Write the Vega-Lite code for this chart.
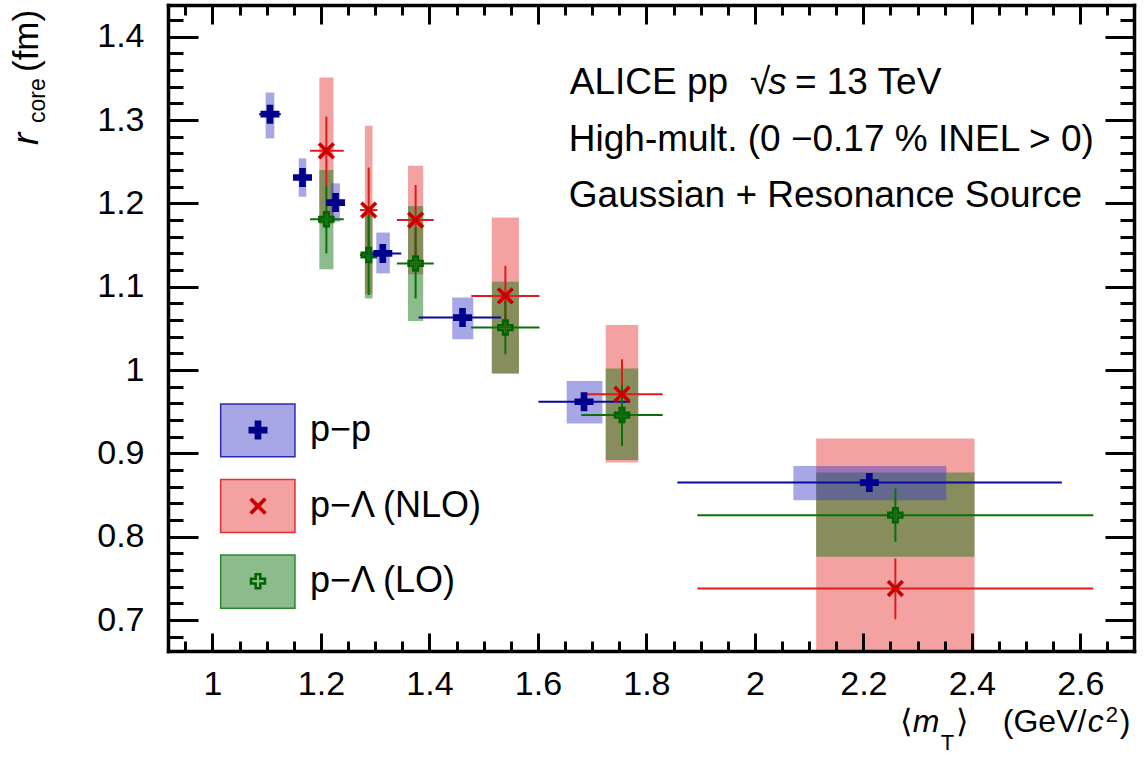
{
  "$schema": "https://vega.github.io/schema/vega-lite/v6.json",
  "width": 966,
  "height": 646,
  "autosize": {"type": "none"},
  "padding": {"left": 168, "top": 5, "right": 14, "bottom": 114},
  "background": "white",
  "config": {"view": {"stroke": null}, "text": {"font": "Liberation Sans"}},
  "resolve": {"axis": {"x": "independent", "y": "independent"}},
  "data": {"values": [
    {"series":"NLO","x":1.210,"y":1.263,"xlo":1.180,"xhi":1.242,"ylo":1.222,"yhi":1.304,"bxlo":1.197,"bxhi":1.223,"bylo":1.175,"byhi":1.351},
    {"series":"NLO","x":1.288,"y":1.192,"xlo":1.272,"xhi":1.304,"ylo":1.141,"yhi":1.243,"bxlo":1.281,"bxhi":1.295,"bylo":1.091,"byhi":1.293},
    {"series":"NLO","x":1.3745,"y":1.180,"xlo":1.340,"xhi":1.408,"ylo":1.138,"yhi":1.222,"bxlo":1.3605,"bxhi":1.3885,"bylo":1.115,"byhi":1.245},
    {"series":"NLO","x":1.540,"y":1.089,"xlo":1.477,"xhi":1.603,"ylo":1.054,"yhi":1.125,"bxlo":1.515,"bxhi":1.565,"bylo":0.996,"byhi":1.183},
    {"series":"NLO","x":1.755,"y":0.971,"xlo":1.680,"xhi":1.830,"ylo":0.929,"yhi":1.013,"bxlo":1.725,"bxhi":1.785,"bylo":0.889,"byhi":1.054},
    {"series":"NLO","x":2.259,"y":0.738,"xlo":1.894,"xhi":2.624,"ylo":0.701,"yhi":0.774,"bxlo":2.113,"bxhi":2.405,"bylo":0.558,"byhi":0.918},
    {"series":"LO","x":1.210,"y":1.181,"xlo":1.180,"xhi":1.242,"ylo":1.140,"yhi":1.222,"bxlo":1.197,"bxhi":1.223,"bylo":1.121,"byhi":1.240},
    {"series":"LO","x":1.288,"y":1.138,"xlo":1.272,"xhi":1.304,"ylo":1.090,"yhi":1.186,"bxlo":1.281,"bxhi":1.295,"bylo":1.086,"byhi":1.190},
    {"series":"LO","x":1.3745,"y":1.128,"xlo":1.340,"xhi":1.408,"ylo":1.086,"yhi":1.170,"bxlo":1.3605,"bxhi":1.3885,"bylo":1.059,"byhi":1.197},
    {"series":"LO","x":1.540,"y":1.051,"xlo":1.477,"xhi":1.603,"ylo":1.019,"yhi":1.083,"bxlo":1.515,"bxhi":1.565,"bylo":0.996,"byhi":1.106},
    {"series":"LO","x":1.755,"y":0.946,"xlo":1.680,"xhi":1.830,"ylo":0.909,"yhi":0.982,"bxlo":1.725,"bxhi":1.785,"bylo":0.892,"byhi":1.002},
    {"series":"LO","x":2.259,"y":0.826,"xlo":1.894,"xhi":2.624,"ylo":0.794,"yhi":0.858,"bxlo":2.113,"bxhi":2.405,"bylo":0.776,"byhi":0.877},
    {"series":"pp","x":1.106,"y":1.307,"xlo":1.086,"xhi":1.126,"ylo":1.302,"yhi":1.312,"bxlo":1.098,"bxhi":1.114,"bylo":1.278,"byhi":1.333},
    {"series":"pp","x":1.166,"y":1.231,"xlo":1.152,"xhi":1.180,"ylo":1.226,"yhi":1.236,"bxlo":1.159,"bxhi":1.173,"bylo":1.208,"byhi":1.254},
    {"series":"pp","x":1.227,"y":1.201,"xlo":1.215,"xhi":1.239,"ylo":1.193,"yhi":1.209,"bxlo":1.218,"bxhi":1.235,"bylo":1.178,"byhi":1.224},
    {"series":"pp","x":1.314,"y":1.140,"xlo":1.281,"xhi":1.348,"ylo":1.135,"yhi":1.145,"bxlo":1.302,"bxhi":1.327,"bylo":1.116,"byhi":1.165},
    {"series":"pp","x":1.461,"y":1.063,"xlo":1.380,"xhi":1.532,"ylo":1.058,"yhi":1.068,"bxlo":1.442,"bxhi":1.481,"bylo":1.037,"byhi":1.087},
    {"series":"pp","x":1.685,"y":0.962,"xlo":1.601,"xhi":1.770,"ylo":0.957,"yhi":0.967,"bxlo":1.653,"bxhi":1.719,"bylo":0.936,"byhi":0.987},
    {"series":"pp","x":2.211,"y":0.865,"xlo":1.857,"xhi":2.566,"ylo":0.860,"yhi":0.870,"bxlo":2.071,"bxhi":2.353,"bylo":0.844,"byhi":0.885}
  ]},
  "layer": [
    {
      "transform": [{"filter": "datum.series === 'NLO'"}],
      "mark": {"type": "rect", "fill": "#e62e2e", "fillOpacity": 0.45, "clip": true},
      "encoding": {
        "x": {"field": "bxlo", "type": "quantitative", "scale": {"domain": [0.918, 2.699], "nice": false, "zero": false},
              "axis": {"orient": "bottom", "values": [1, 1.2, 1.4, 1.6, 1.8, 2, 2.2, 2.4, 2.6], "format": "~g", "ticks": false, "domain": false, "grid": false, "title": null,
                       "labelFont": "Liberation Sans", "labelFontSize": 34, "labelColor": "black", "labelPadding": 16, "labelFlush": false, "labelOverlap": false, "labelBaseline": "top"}},
        "x2": {"field": "bxhi"},
        "y": {"field": "bylo", "type": "quantitative", "scale": {"domain": [0.663, 1.438], "nice": false, "zero": false},
              "axis": {"orient": "left", "values": [0.7, 0.8, 0.9, 1, 1.1, 1.2, 1.3, 1.4], "format": "~g", "ticks": false, "domain": false, "grid": false, "title": null,
                       "labelFont": "Liberation Sans", "labelFontSize": 34, "labelColor": "black", "labelPadding": 24, "labelFlush": false, "labelOverlap": false, "labelBaseline": "middle"}},
        "y2": {"field": "byhi"}
      }
    },
    {
      "transform": [{"filter": "datum.series === 'LO'"}],
      "mark": {"type": "rect", "fill": "#1a7a1a", "fillOpacity": 0.5, "clip": true},
      "encoding": {
        "x": {"field": "bxlo", "type": "quantitative", "scale": {"domain": [0.918, 2.699], "nice": false, "zero": false},
              "axis": {"orient": "bottom", "values": [1, 1.2, 1.4, 1.6, 1.8, 2, 2.2, 2.4, 2.6], "labels": false, "tickSize": -18, "tickWidth": 3, "tickColor": "black", "domain": true, "domainWidth": 3.5, "domainColor": "black", "domainCap": "square", "grid": false, "title": null, "zindex": 1}},
        "x2": {"field": "bxhi"},
        "y": {"field": "bylo", "type": "quantitative", "scale": {"domain": [0.663, 1.438], "nice": false, "zero": false},
              "axis": {"orient": "left", "values": [0.7, 0.8, 0.9, 1, 1.1, 1.2, 1.3, 1.4], "labels": false, "tickSize": -30, "tickWidth": 3, "tickColor": "black", "domain": true, "domainWidth": 3.5, "domainColor": "black", "domainCap": "square", "grid": false, "title": null, "zindex": 1}},
        "y2": {"field": "byhi"}
      }
    },
    {
      "transform": [{"filter": "datum.series === 'pp'"}],
      "mark": {"type": "rect", "fill": "#3b3bc8", "fillOpacity": 0.45, "clip": true},
      "encoding": {
        "x": {"field": "bxlo", "type": "quantitative", "scale": {"domain": [0.918, 2.699], "nice": false, "zero": false},
              "axis": {"orient": "bottom", "values": [0.95, 1.05, 1.1, 1.15, 1.25, 1.3, 1.35, 1.45, 1.5, 1.55, 1.65, 1.7, 1.75, 1.85, 1.9, 1.95, 2.05, 2.1, 2.15, 2.25, 2.3, 2.35, 2.45, 2.5, 2.55, 2.65], "labels": false, "tickSize": -10, "tickWidth": 3, "tickColor": "black", "domain": false, "grid": false, "title": null, "zindex": 1}},
        "x2": {"field": "bxhi"},
        "y": {"field": "bylo", "type": "quantitative", "scale": {"domain": [0.663, 1.438], "nice": false, "zero": false},
              "axis": {"orient": "left", "values": [0.68, 0.72, 0.74, 0.76, 0.78, 0.82, 0.84, 0.86, 0.88, 0.92, 0.94, 0.96, 0.98, 1.02, 1.04, 1.06, 1.08, 1.12, 1.14, 1.16, 1.18, 1.22, 1.24, 1.26, 1.28, 1.32, 1.34, 1.36, 1.38, 1.42], "labels": false, "tickSize": -15, "tickWidth": 3, "tickColor": "black", "domain": false, "grid": false, "title": null, "zindex": 1}},
        "y2": {"field": "byhi"}
      }
    },
    {
      "mark": {"type": "rule", "strokeWidth": 2, "clip": true},
      "encoding": {
        "x": {"field": "xlo", "type": "quantitative", "scale": {"domain": [0.918, 2.699], "nice": false, "zero": false},
              "axis": {"orient": "top", "values": [1, 1.2, 1.4, 1.6, 1.8, 2, 2.2, 2.4, 2.6], "labels": false, "tickSize": -19, "tickWidth": 3, "tickColor": "black", "domain": true, "domainWidth": 3.5, "domainColor": "black", "domainCap": "square", "grid": false, "title": null, "zindex": 1}},
        "x2": {"field": "xhi"},
        "y": {"field": "y", "type": "quantitative", "scale": {"domain": [0.663, 1.438], "nice": false, "zero": false},
              "axis": {"orient": "right", "values": [0.7, 0.8, 0.9, 1, 1.1, 1.2, 1.3, 1.4], "labels": false, "tickSize": -29, "tickWidth": 3, "tickColor": "black", "domain": true, "domainWidth": 3.5, "domainColor": "black", "domainCap": "square", "grid": false, "title": null, "zindex": 1}},
        "color": {"field": "series", "type": "nominal", "scale": {"domain": ["pp", "NLO", "LO"], "range": ["#0a0a9a", "#dd1c1c", "#0a700a"]}, "legend": null}
      }
    },
    {
      "mark": {"type": "rule", "strokeWidth": 2, "clip": true},
      "encoding": {
        "x": {"field": "x", "type": "quantitative", "scale": {"domain": [0.918, 2.699], "nice": false, "zero": false},
              "axis": {"orient": "top", "values": [0.95, 1.05, 1.1, 1.15, 1.25, 1.3, 1.35, 1.45, 1.5, 1.55, 1.65, 1.7, 1.75, 1.85, 1.9, 1.95, 2.05, 2.1, 2.15, 2.25, 2.3, 2.35, 2.45, 2.5, 2.55, 2.65], "labels": false, "tickSize": -10, "tickWidth": 3, "tickColor": "black", "domain": false, "grid": false, "title": null, "zindex": 1}},
        "y": {"field": "ylo", "type": "quantitative", "scale": {"domain": [0.663, 1.438], "nice": false, "zero": false},
              "axis": {"orient": "right", "values": [0.68, 0.72, 0.74, 0.76, 0.78, 0.82, 0.84, 0.86, 0.88, 0.92, 0.94, 0.96, 0.98, 1.02, 1.04, 1.06, 1.08, 1.12, 1.14, 1.16, 1.18, 1.22, 1.24, 1.26, 1.28, 1.32, 1.34, 1.36, 1.38, 1.42], "labels": false, "tickSize": -14, "tickWidth": 3, "tickColor": "black", "domain": false, "grid": false, "title": null, "zindex": 1}},
        "y2": {"field": "yhi"},
        "color": {"field": "series", "type": "nominal", "scale": {"domain": ["pp", "NLO", "LO"], "range": ["#0a0a9a", "#dd1c1c", "#0a700a"]}, "legend": null}
      }
    },
    {
      "transform": [{"filter": "datum.series === 'NLO'"}],
      "mark": {"type": "point", "shape": "M-1,-0.7L-0.7,-1L0,-0.3L0.7,-1L1,-0.7L0.3,0L1,0.7L0.7,1L0,0.3L-0.7,1L-1,0.7L-0.3,0Z", "size": 300, "filled": true, "fill": "#cc0000", "opacity": 1},
      "encoding": {
        "x": {"field": "x", "type": "quantitative", "scale": {"domain": [0.918, 2.699], "nice": false, "zero": false}, "axis": null},
        "y": {"field": "y", "type": "quantitative", "scale": {"domain": [0.663, 1.438], "nice": false, "zero": false}, "axis": null}
      }
    },
    {
      "transform": [{"filter": "datum.series === 'LO'"}],
      "mark": {"type": "point", "shape": "M-0.33,-1H0.33V-0.33H1V0.33H0.33V1H-0.33V0.33H-1V-0.33H-0.33Z", "size": 196, "filled": false, "stroke": "#006400", "strokeWidth": 2.5, "opacity": 1},
      "encoding": {
        "x": {"field": "x", "type": "quantitative", "scale": {"domain": [0.918, 2.699], "nice": false, "zero": false}, "axis": null},
        "y": {"field": "y", "type": "quantitative", "scale": {"domain": [0.663, 1.438], "nice": false, "zero": false}, "axis": null}
      }
    },
    {
      "transform": [{"filter": "datum.series === 'pp'"}],
      "mark": {"type": "point", "shape": "M-0.35,-1H0.35V-0.35H1V0.35H0.35V1H-0.35V0.35H-1V-0.35H-0.35Z", "size": 361, "filled": true, "fill": "#00008c", "opacity": 1},
      "encoding": {
        "x": {"field": "x", "type": "quantitative", "scale": {"domain": [0.918, 2.699], "nice": false, "zero": false}, "axis": null},
        "y": {"field": "y", "type": "quantitative", "scale": {"domain": [0.663, 1.438], "nice": false, "zero": false}, "axis": null}
      }
    },
    {
      "data": {"values": [{}]},
      "mark": {"type": "rect", "fill": "#3b3bc8", "fillOpacity": 0.45, "stroke": "#2b2bb0", "strokeWidth": 1.5},
      "encoding": {
        "x": {"datum": 1.0151, "type": "quantitative", "scale": {"domain": [0.918, 2.699], "nice": false, "zero": false}, "axis": null},
        "x2": {"datum": 1.1521},
        "y": {"datum": 0.8959, "type": "quantitative", "scale": {"domain": [0.663, 1.438], "nice": false, "zero": false}, "axis": null},
        "y2": {"datum": 0.9592}
      }
    },
    {
      "data": {"values": [{}]},
      "mark": {"type": "rect", "fill": "#e62e2e", "fillOpacity": 0.45, "stroke": "#e23030", "strokeWidth": 1.5},
      "encoding": {
        "x": {"datum": 1.0151, "type": "quantitative", "scale": {"domain": [0.918, 2.699], "nice": false, "zero": false}, "axis": null},
        "x2": {"datum": 1.1521},
        "y": {"datum": 0.8052, "type": "quantitative", "scale": {"domain": [0.663, 1.438], "nice": false, "zero": false}, "axis": null},
        "y2": {"datum": 0.8688}
      }
    },
    {
      "data": {"values": [{}]},
      "mark": {"type": "rect", "fill": "#1a7a1a", "fillOpacity": 0.5, "stroke": "#2a8a2a", "strokeWidth": 1.5},
      "encoding": {
        "x": {"datum": 1.0151, "type": "quantitative", "scale": {"domain": [0.918, 2.699], "nice": false, "zero": false}, "axis": null},
        "x2": {"datum": 1.1521},
        "y": {"datum": 0.7144, "type": "quantitative", "scale": {"domain": [0.663, 1.438], "nice": false, "zero": false}, "axis": null},
        "y2": {"datum": 0.7783}
      }
    },
    {
      "data": {"values": [{}]},
      "mark": {"type": "point", "shape": "M-0.35,-1H0.35V-0.35H1V0.35H0.35V1H-0.35V0.35H-1V-0.35H-0.35Z", "size": 361, "filled": true, "fill": "#00008c", "opacity": 1},
      "encoding": {
        "x": {"datum": 1.0839, "type": "quantitative", "scale": {"domain": [0.918, 2.699], "nice": false, "zero": false}, "axis": null},
        "y": {"datum": 0.9280, "type": "quantitative", "scale": {"domain": [0.663, 1.438], "nice": false, "zero": false}, "axis": null}
      }
    },
    {
      "data": {"values": [{}]},
      "mark": {"type": "point", "shape": "M-1,-0.7L-0.7,-1L0,-0.3L0.7,-1L1,-0.7L0.3,0L1,0.7L0.7,1L0,0.3L-0.7,1L-1,0.7L-0.3,0Z", "size": 300, "filled": true, "fill": "#cc0000", "opacity": 1},
      "encoding": {
        "x": {"datum": 1.0839, "type": "quantitative", "scale": {"domain": [0.918, 2.699], "nice": false, "zero": false}, "axis": null},
        "y": {"datum": 0.8368, "type": "quantitative", "scale": {"domain": [0.663, 1.438], "nice": false, "zero": false}, "axis": null}
      }
    },
    {
      "data": {"values": [{}]},
      "mark": {"type": "point", "shape": "M-0.33,-1H0.33V-0.33H1V0.33H0.33V1H-0.33V0.33H-1V-0.33H-0.33Z", "size": 196, "filled": false, "stroke": "#006400", "strokeWidth": 2.5, "opacity": 1},
      "encoding": {
        "x": {"datum": 1.0839, "type": "quantitative", "scale": {"domain": [0.918, 2.699], "nice": false, "zero": false}, "axis": null},
        "y": {"datum": 0.7468, "type": "quantitative", "scale": {"domain": [0.663, 1.438], "nice": false, "zero": false}, "axis": null}
      }
    },
    {
      "data": {"values": [{"t": "p\u2212p", "yy": 0.9280}, {"t": "p\u2212\u039b (NLO)", "yy": 0.8368}, {"t": "p\u2212\u039b (LO)", "yy": 0.7468}]},
      "mark": {"type": "text", "font": "Liberation Sans", "fontSize": 36, "align": "left", "baseline": "middle", "color": "black"},
      "encoding": {
        "text": {"field": "t"},
        "x": {"datum": 1.1797, "type": "quantitative", "scale": {"domain": [0.918, 2.699], "nice": false, "zero": false}, "axis": null},
        "y": {"field": "yy", "type": "quantitative", "scale": {"domain": [0.663, 1.438], "nice": false, "zero": false}, "axis": null}
      }
    },
    {
      "data": {"values": [{"t": "ALICE pp", "xx": 1.6588}, {"t": "\u221a", "xx": 1.9908}, {"t": "= 13 TeV", "xx": 2.0738}]},
      "mark": {"type": "text", "font": "Liberation Sans", "fontSize": 37, "align": "left", "baseline": "alphabetic", "color": "black"},
      "encoding": {
        "text": {"field": "t"},
        "x": {"field": "xx", "type": "quantitative", "scale": {"domain": [0.918, 2.699], "nice": false, "zero": false}, "axis": null},
        "y": {"datum": 1.3313, "type": "quantitative", "scale": {"domain": [0.663, 1.438], "nice": false, "zero": false}, "axis": null}
      }
    },
    {
      "data": {"values": [{"t": "s"}]},
      "mark": {"type": "text", "font": "Liberation Sans", "fontSize": 37, "fontStyle": "italic", "align": "left", "baseline": "alphabetic", "color": "black"},
      "encoding": {
        "text": {"field": "t"},
        "x": {"datum": 2.0245, "type": "quantitative", "scale": {"domain": [0.918, 2.699], "nice": false, "zero": false}, "axis": null},
        "y": {"datum": 1.3313, "type": "quantitative", "scale": {"domain": [0.663, 1.438], "nice": false, "zero": false}, "axis": null}
      }
    },
    {
      "data": {"values": [{"t": "High-mult. (0 \u22120.17 % INEL > 0)", "yy": 1.2629}, {"t": "Gaussian + Resonance Source", "yy": 1.1953}]},
      "mark": {"type": "text", "font": "Liberation Sans", "fontSize": 37, "align": "left", "baseline": "alphabetic", "color": "black"},
      "encoding": {
        "text": {"field": "t"},
        "x": {"datum": 1.6570, "type": "quantitative", "scale": {"domain": [0.918, 2.699], "nice": false, "zero": false}, "axis": null},
        "y": {"field": "yy", "type": "quantitative", "scale": {"domain": [0.663, 1.438], "nice": false, "zero": false}, "axis": null}
      }
    },
    {
      "data": {"values": [{"t": "r", "yy": 1.2700}]},
      "mark": {"type": "text", "font": "Liberation Sans", "fontSize": 37, "fontStyle": "italic", "angle": 270, "align": "left", "baseline": "alphabetic", "color": "black"},
      "encoding": {
        "text": {"field": "t"},
        "x": {"datum": 0.6784, "type": "quantitative", "scale": {"domain": [0.918, 2.699], "nice": false, "zero": false}, "axis": null},
        "y": {"field": "yy", "type": "quantitative", "scale": {"domain": [0.663, 1.438], "nice": false, "zero": false}, "axis": null}
      }
    },
    {
      "data": {"values": [{"t": "core", "yy": 1.2964}]},
      "mark": {"type": "text", "font": "Liberation Sans", "fontSize": 23, "angle": 270, "align": "left", "baseline": "alphabetic", "color": "black"},
      "encoding": {
        "text": {"field": "t"},
        "x": {"datum": 0.6913, "type": "quantitative", "scale": {"domain": [0.918, 2.699], "nice": false, "zero": false}, "axis": null},
        "y": {"field": "yy", "type": "quantitative", "scale": {"domain": [0.663, 1.438], "nice": false, "zero": false}, "axis": null}
      }
    },
    {
      "data": {"values": [{"t": "(fm)", "yy": 1.3576}]},
      "mark": {"type": "text", "font": "Liberation Sans", "fontSize": 35, "angle": 270, "align": "left", "baseline": "alphabetic", "color": "black"},
      "encoding": {
        "text": {"field": "t"},
        "x": {"datum": 0.6784, "type": "quantitative", "scale": {"domain": [0.918, 2.699], "nice": false, "zero": false}, "axis": null},
        "y": {"field": "yy", "type": "quantitative", "scale": {"domain": [0.663, 1.438], "nice": false, "zero": false}, "axis": null}
      }
    },
    {
      "data": {"values": [{"t": "\u27e8", "xx": 2.2673}, {"t": "\u27e9", "xx": 2.3705}, {"t": "(GeV/", "xx": 2.4571}, {"t": ")", "xx": 2.6729}]},
      "mark": {"type": "text", "font": "Liberation Sans", "fontSize": 32, "align": "left", "baseline": "alphabetic", "color": "black"},
      "encoding": {
        "text": {"field": "t"},
        "x": {"field": "xx", "type": "quantitative", "scale": {"domain": [0.918, 2.699], "nice": false, "zero": false}, "axis": null},
        "y": {"datum": 0.5656, "type": "quantitative", "scale": {"domain": [0.663, 1.438], "nice": false, "zero": false}, "axis": null}
      }
    },
    {
      "data": {"values": [{"t": "m", "xx": 2.2913}, {"t": "c", "xx": 2.6138}]},
      "mark": {"type": "text", "font": "Liberation Sans", "fontSize": 32, "fontStyle": "italic", "align": "left", "baseline": "alphabetic", "color": "black"},
      "encoding": {
        "text": {"field": "t"},
        "x": {"field": "xx", "type": "quantitative", "scale": {"domain": [0.918, 2.699], "nice": false, "zero": false}, "axis": null},
        "y": {"datum": 0.5656, "type": "quantitative", "scale": {"domain": [0.663, 1.438], "nice": false, "zero": false}, "axis": null}
      }
    },
    {
      "data": {"values": [{"t": "T", "xx": 2.3428, "yy": 0.5440}, {"t": "2", "xx": 2.6470, "yy": 0.5776}]},
      "mark": {"type": "text", "font": "Liberation Sans", "fontSize": 22, "align": "left", "baseline": "alphabetic", "color": "black"},
      "encoding": {
        "text": {"field": "t"},
        "x": {"field": "xx", "type": "quantitative", "scale": {"domain": [0.918, 2.699], "nice": false, "zero": false}, "axis": null},
        "y": {"field": "yy", "type": "quantitative", "scale": {"domain": [0.663, 1.438], "nice": false, "zero": false}, "axis": null}
      }
    }
  ]
}
